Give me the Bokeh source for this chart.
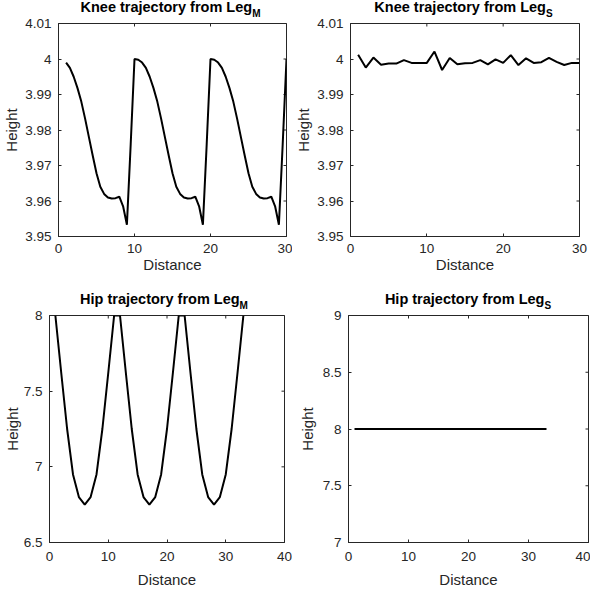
from math import pi
from bokeh.plotting import figure
from bokeh.models import Range1d, FixedTicker, Div
from bokeh.layouts import column, row
from bokeh.embed import file_html
from bokeh.resources import INLINE

FONT = "Liberation Sans"
AX = "#262626"

# ---------------- data ----------------
knee_m_x = [1.0, 1.5, 2.0, 2.5, 3.0, 3.5, 4.0, 4.5, 5.0, 5.5, 6.0, 6.5, 7.0, 7.5, 8.0, 8.5, 9.0, 9.5, 10.0,
            10.5, 11.0, 11.5, 12.0, 12.5, 13.0, 13.5, 14.0, 14.5, 15.0, 15.5, 16.0, 16.5, 17.0, 17.5, 18.0, 18.5, 19.0, 19.5, 20.0,
            20.5, 21.0, 21.5, 22.0, 22.5, 23.0, 23.5, 24.0, 24.5, 25.0, 25.5, 26.0, 26.5, 27.0, 27.5, 28.0, 28.5, 29.0, 29.5, 30.0]
knee_m_y = [3.9990, 3.9975, 3.9950, 3.9918, 3.9880, 3.9832, 3.9780, 3.9728, 3.9678, 3.9640, 3.9620, 3.9610, 3.9607, 3.9608, 3.9612, 3.9585, 3.9533, 3.9760, 4.0000,
            3.9998, 3.9990, 3.9975, 3.9950, 3.9918, 3.9880, 3.9832, 3.9780, 3.9728, 3.9678, 3.9640, 3.9620, 3.9610, 3.9607, 3.9608, 3.9612, 3.9585, 3.9533, 3.9760, 4.0000,
            3.9998, 3.9990, 3.9975, 3.9950, 3.9918, 3.9880, 3.9832, 3.9780, 3.9728, 3.9678, 3.9640, 3.9620, 3.9610, 3.9607, 3.9608, 3.9612, 3.9585, 3.9533, 3.9760, 4.0000]

knee_s_x = [1, 2, 3, 4, 5, 6, 7, 8, 9, 10, 11, 12, 13, 14, 15, 16, 17, 18, 19, 20,
            21, 22, 23, 24, 25, 26, 27, 28, 29, 30]
knee_s_y = [4.0012, 3.9976, 4.0004, 3.9984, 3.9987, 3.9987, 3.9997, 3.9989, 3.9989, 3.9989,
            4.0021, 3.9969, 4.0003, 3.9985, 3.9988, 3.9989, 3.9997, 3.9985, 3.9999, 3.9989,
            4.0011, 3.9983, 4.0002, 3.9989, 3.9991, 4.0003, 3.9992, 3.9983, 3.9989, 3.9989]

hip_m_x = [1, 2, 3, 4, 5, 6, 7, 8, 9, 10, 11, 12, 13, 14, 15, 16, 17, 18, 19, 20, 21, 22,
           23, 24, 25, 26, 27, 28, 29, 30, 31, 32, 33]
hip_m_y = [8.00, 7.62, 7.25, 6.95, 6.80, 6.75, 6.80, 6.95, 7.25, 7.62, 8.00,
           8.00, 7.62, 7.25, 6.95, 6.80, 6.75, 6.80, 6.95, 7.25, 7.62, 8.00,
           8.00, 7.62, 7.25, 6.95, 6.80, 6.75, 6.80, 6.95, 7.25, 7.62, 8.00]

hip_s_x = [1, 2, 3, 4, 5, 6, 7, 8, 9, 10, 11, 12, 13, 14, 15, 16, 17, 18, 19, 20, 21, 22,
           23, 24, 25, 26, 27, 28, 29, 30, 31, 32, 33]
hip_s_y = [8.0, 8.0, 8.0, 8.0, 8.0, 8.0, 8.0, 8.0, 8.0, 8.0, 8.0, 8.0, 8.0, 8.0, 8.0, 8.0, 8.0,
           8.0, 8.0, 8.0, 8.0, 8.0, 8.0, 8.0, 8.0, 8.0, 8.0, 8.0, 8.0, 8.0, 8.0, 8.0, 8.0]

knee_x_ticks = [0, 10, 20, 30]
knee_y_ticks = [3.95, 3.96, 3.97, 3.98, 3.99, 4.0, 4.01]
knee_y_labels = ["3.95", "3.96", "3.97", "3.98", "3.99", "4", "4.01"]
hip_x_ticks = [0, 10, 20, 30, 40]
hip_m_y_ticks = [6.5, 7.0, 7.5, 8.0]
hip_m_y_labels = ["6.5", "7", "7.5", "8"]
hip_s_y_ticks = [7.0, 7.5, 8.0, 8.5, 9.0]
hip_s_y_labels = ["7", "7.5", "8", "8.5", "9"]

titles = ["Knee trajectory from Leg", "Knee trajectory from Leg",
          "Hip trajectory from Leg", "Hip trajectory from Leg"]
subs = ["M", "S", "M", "S"]
x_label = "Distance"
y_label = "Height"

TITLE_H = 17
TOP_B = 6


def make(w, h, bl, br, bb, xr, yr, xt, yt, ylabs, xs, ys, title, sub,
         xl_standoff, xlab_standoff, ylab_standoff):
    fh = h - TITLE_H
    p = figure(width=w, height=fh, x_range=Range1d(*xr), y_range=Range1d(*yr),
               output_backend="svg", toolbar_location=None,
               min_border_left=bl, min_border_right=br, min_border_top=TOP_B, min_border_bottom=bb,
               x_axis_label=x_label, y_axis_label=y_label)
    p.background_fill_color = "white"
    p.border_fill_color = None
    p.outline_line_color = AX
    p.outline_line_width = 1
    p.grid.visible = False
    p.xaxis.ticker = FixedTicker(ticks=xt)
    p.yaxis.ticker = FixedTicker(ticks=yt)
    p.yaxis.major_label_overrides = dict(zip(yt, ylabs))
    for ax in (p.xaxis[0], p.yaxis[0]):
        ax.axis_line_color = AX
        ax.major_tick_line_color = AX
        ax.major_tick_in = 3
        ax.major_tick_out = 0
        ax.minor_tick_line_color = None
        ax.major_label_text_font = FONT
        ax.major_label_text_font_size = "13.5px"
        ax.major_label_text_color = AX
        ax.axis_label_text_font = FONT
        ax.axis_label_text_font_size = "15px"
        ax.axis_label_text_font_style = "normal"
        ax.axis_label_text_color = AX
    p.xaxis.major_label_standoff = xl_standoff
    p.yaxis.major_label_standoff = 7
    p.xaxis.axis_label_standoff = xlab_standoff
    p.yaxis.axis_label_standoff = ylab_standoff
    # box ticks on top and right edges (half of each dash is clipped by the frame)
    p.scatter(xt, [yr[1]] * len(xt), marker="dash", angle=pi / 2, size=6,
              line_color=AX, line_width=1)
    p.scatter([xr[1]] * len(yt), yt, marker="dash", angle=0, size=6,
              line_color=AX, line_width=1)
    p.line(xs, ys, line_color="black", line_width=2)

    fw = w - bl - br
    html = ('<div style="margin-left:%dpx;width:%dpx;text-align:center;line-height:14px;'
            'white-space:nowrap;font-family:\'%s\';font-size:14.5px;font-weight:bold;color:black;">'
            '%s<span style="position:relative;top:5px;font-size:10px;line-height:10px;">%s</span></div>'
            % (bl, fw, FONT, title, sub))
    d = Div(text=html, width=w, height=TITLE_H, margin=(0, 0, 0, 0),
            stylesheets=[":host { overflow: visible !important; }"])
    return column(d, p, spacing=0)


c1 = make(292, 292, 55, 6, 56, (0, 30), (3.95, 4.01), knee_x_ticks, knee_y_ticks, knee_y_labels,
          knee_m_x, knee_m_y, titles[0], subs[0], 7, 0, 2)
c2 = make(298, 292, 56, 11, 56, (0, 30), (3.95, 4.01), knee_x_ticks, knee_y_ticks, knee_y_labels,
          knee_s_x, knee_s_y, titles[1], subs[1], 7, 0, 2)
c3 = make(292, 298, 44, 8, 48, (0, 40), (6.5, 8.0), hip_x_ticks, hip_m_y_ticks, hip_m_y_labels,
          hip_m_x, hip_m_y, titles[2], subs[2], 9, 7, 0)
c4 = make(298, 298, 56, 2, 48, (0, 40), (7.0, 9.0), hip_x_ticks, hip_s_y_ticks, hip_s_y_labels,
          hip_s_x, hip_s_y, titles[3], subs[3], 9, 7, 4)

layout = column(row(c1, c2, spacing=0), row(c3, c4, spacing=0), spacing=0)
open("out.html", "w").write(file_html(layout, INLINE))
